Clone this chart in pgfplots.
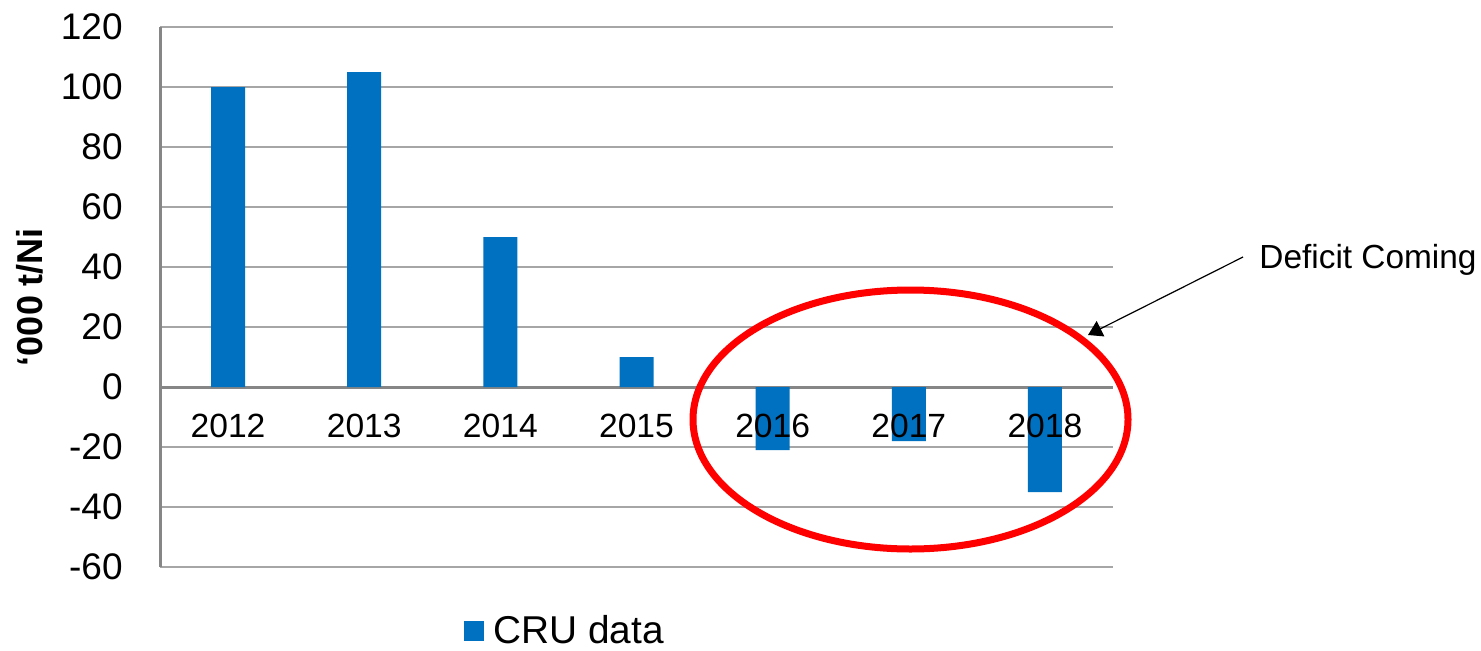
\documentclass[border=0pt]{standalone}
\usepackage{pgfplots}
\pgfplotsset{compat=1.18}
\usepackage{fontspec}
\setmainfont{Liberation Sans}
\usetikzlibrary{arrows.meta}
\definecolor{barblue}{HTML}{0070C0}
\definecolor{gridgray}{HTML}{A6A6A6}
\definecolor{axisgray}{HTML}{868686}
\begin{document}
\begin{tikzpicture}
\begin{axis}[
  set layers,
  at={(80pt,41.5pt)}, anchor=south west,
  scale only axis, width=476.5pt, height=270pt,
  xmin=-0.5, xmax=6.5, ymin=-60, ymax=120,
  ytick={-60,-40,-20,0,20,40,60,80,100,120},
  xtick=data, xticklabels={2012,2013,2014,2015,2016,2017,2018},
  ybar, bar width=17pt,
  axis line style={draw=none},
  major tick length=0pt,
  ymajorgrids, grid style={gridgray, line width=1pt},
  extra y ticks={0}, extra y tick labels={},
  extra y tick style={grid style={axisgray, line width=1.5pt}},
  /pgf/number format/assume math mode=true,
  yticklabel style={font=\fontsize{18.5}{20}\selectfont, anchor=east, inner sep=0pt, xshift=-18.5pt},
  xticklabel style={font=\fontsize{16.8}{20}\selectfont, anchor=north, inner sep=0pt, yshift=76.5pt},
  ylabel={‘000 t/Ni},
  ylabel style={font=\bfseries\fontsize{18}{20}\selectfont, at={(axis description cs:-0.1364,0.5)}, anchor=center},
  legend style={draw=none, fill=none, at={(axis description cs:0.319,-0.118)}, anchor=west, inner sep=0pt, nodes={inner ysep=1pt}, font=\fontsize{19.4}{22}\selectfont},
  legend image code/.code={\fill[#1] (0pt,-5pt) rectangle (10pt,5pt);},
]
\addplot[fill=barblue, draw=none, on layer=axis grid] coordinates {(0,100) (1,105) (2,50) (3,10) (4,-21) (5,-18) (6,-35)};
\addlegendentry{\hspace{2.5pt}CRU data}
\end{axis}
\draw[axisgray, line width=1.5pt] (80pt,41.5pt) -- (80pt,311.5pt);
\draw[red, line width=3.5pt] (455.25pt,115.25pt) ellipse [x radius=108.75pt, y radius=64.75pt];
\draw[line width=0.6pt, -{Triangle[length=7pt,width=8.5pt]}] (621.5pt,196.5pt) -- (544pt,157.5pt);
\node[anchor=base west, inner sep=0pt, font=\fontsize{16.7}{20}\selectfont] at (629.5pt,191pt) {Deficit Coming};
\pgfresetboundingbox
\path[use as bounding box] (0,0) rectangle (740.5pt,325pt);
\end{tikzpicture}
\end{document}
